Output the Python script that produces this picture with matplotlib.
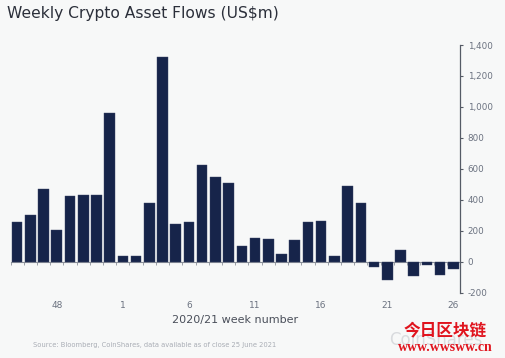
import matplotlib
matplotlib.use('Agg')
import matplotlib.pyplot as plt
import numpy as np

plt.rcParams['font.family'] = ['DejaVu Sans']

# week numbers (2020 weeks 45-52, then 2021 weeks 1-26)
weeks = list(range(45, 53)) + list(range(1, 27))
flows = [258, 301, 468, 204, 426, 434, 434, 960, 39, 39,
         381, 1320, 243, 260, 628, 550, 512, 103, 155, 150,
         49, 139, 258, 262, 36, 492, 378, -35, -114, 77,
         -93, -22, -82, -45]
label_weeks = [48, 1, 6, 11, 16, 21, 26]
yticks = [-200, 0, 200, 400, 600, 800, 1000, 1200, 1400]

bg = '#f7f8f8'
bar_col = '#16244a'
grey = '#6b7280'

fig = plt.figure(figsize=(5.05, 3.58), dpi=100, facecolor=bg)
ax = fig.add_axes([0.0208, 0.1816, 0.8901, 0.6927], facecolor=bg)

x = np.arange(len(weeks))
ax.bar(x, flows, width=0.8, color=bar_col, edgecolor='#3a4566', linewidth=0.3, zorder=2)

ax.set_xlim(-0.5, len(weeks) - 0.5)
ax.set_ylim(-200, 1400)

# y axis on the right
ax.yaxis.tick_right()
ax.set_yticks(yticks)
ax.set_yticklabels([f'{v:,}' for v in yticks])
ax.tick_params(axis='y', direction='out', length=2.5, width=0.8, color='#555b66',
               labelsize=6.3, labelcolor=grey, pad=3)

for s in ['top', 'left', 'bottom']:
    ax.spines[s].set_visible(False)
ax.spines['right'].set_color('#555b66')
ax.spines['right'].set_linewidth(0.9)

# week labels at bottom of axes
pos = [weeks.index(w) for w in label_weeks]
ax.set_xticks(pos)
ax.set_xticklabels([str(w) for w in label_weeks])
ax.tick_params(axis='x', length=0, labelsize=6.5, labelcolor=grey, pad=5.5)
ax.set_xlabel('2020/21 week number', fontsize=8, color='#4a4f5a', labelpad=4)

# zero line with ticks between bars
zero = ax.secondary_xaxis(200 / 1600)
zero.set_xticks(np.arange(-0.5, len(weeks), 1.0))
zero.tick_params(axis='x', direction='out', length=2, width=0.6, color='#8a8f99',
                 labelbottom=False)
zero.spines['bottom'].set_color('#8a8f99')
zero.spines['bottom'].set_linewidth(0.8)

fig.text(0.014, 0.962, 'Weekly Crypto Asset Flows (US$m)', fontsize=11.2,
         color='#2b2f3a', va='center', ha='left')
fig.text(0.065, 0.036, 'Source: Bloomberg, CoinShares, data available as of close 25 June 2021',
         fontsize=4.9, color='#a9adb5', va='center', ha='left')

# faint logo text and red watermark
fig.text(0.77, 0.05, 'CoinShares', fontsize=12, color='#d9dbde', va='center', ha='left')
fig.text(0.882, 0.078, '今日区块链', fontsize=12, color='#e0141e', fontweight='bold',
         family=['Noto Sans CJK SC', 'DejaVu Sans'], va='center', ha='center')
fig.text(0.882, 0.029, 'www.wwsww.cn', fontsize=10, color='#e0141e', fontweight='bold',
         family=['Liberation Serif', 'DejaVu Serif'], va='center', ha='center')

fig.savefig('out.png', dpi=100, facecolor=bg)
